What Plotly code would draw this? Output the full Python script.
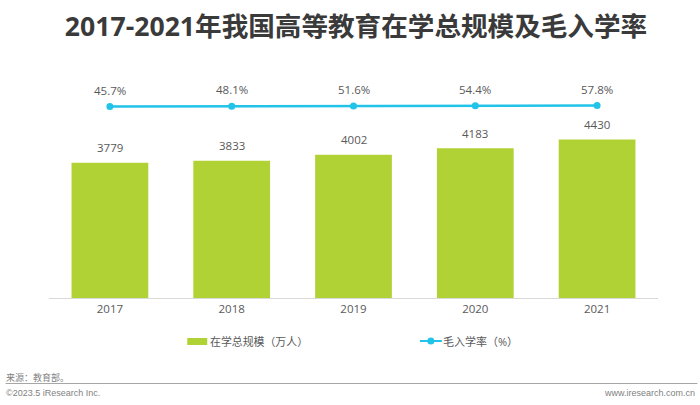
import plotly.graph_objects as go
from plotly.subplots import make_subplots

years = ['2017', '2018', '2019', '2020', '2021']
students = [3779, 3833, 4002, 4183, 4430]
rates = [45.7, 48.1, 51.6, 54.4, 57.8]
rate_labels = ['45.7%', '48.1%', '51.6%', '54.4%', '57.8%']

font_cn = 'Open Sans, Noto Sans CJK SC'
text_col = '#595959'
green = '#B0D235'
blue = '#22C3E8'

# plot area in page pixels
left, right, top, bottom = 48.5, 658.5, 60, 298


def px(v):
    return (v - left) / (right - left)


def py(v):
    return (bottom - v) / (bottom - top)


fig = make_subplots(specs=[[{'secondary_y': True}]])

fig.add_trace(go.Bar(x=years, y=students, marker_color=green, marker_line_width=0, width=0.63,
                     showlegend=False),
              secondary_y=False)
fig.add_trace(go.Scatter(x=years, y=rates, mode='lines+markers',
                         line=dict(color=blue, width=2.5),
                         marker=dict(size=7, color=blue), showlegend=False),
              secondary_y=True)

# value labels (category axis: annotations take the category's serial number)
for i, val in enumerate(students):
    fig.add_annotation(x=i, y=val, xref='x', yref='y', text=str(val), yshift=15, showarrow=False,
                       font=dict(size=11.5, color=text_col))
for i, (val, lab) in enumerate(zip(rates, rate_labels)):
    fig.add_annotation(x=i, y=val, xref='x', yref='y2', text=lab, yshift=16.5, showarrow=False,
                       font=dict(size=11.5, color=text_col))

fig.update_layout(
    width=700, height=405, margin=dict(l=left, r=700 - right, t=top, b=405 - bottom),
    paper_bgcolor='white', plot_bgcolor='white',
    font=dict(family=font_cn, color=text_col, size=12),
    title=dict(text='<b>2017-2021年我国高等教育在学总规模及毛入学率</b>',
               x=356 / 700, xanchor='center', y=1 - 27 / 405, yanchor='middle',
               font=dict(size=26.6, color='#3a3a3a')),
)
fig.update_xaxes(type='category', domain=[0, 1], showgrid=False, ticks='', showline=True,
                 linecolor='#d9d9d9', linewidth=1, tickfont=dict(size=11.5, color=text_col))
fig.update_yaxes(range=[0, 6648], visible=False, secondary_y=False)
fig.update_yaxes(range=[-2348, 627], visible=False, secondary_y=True)

# legend
fig.add_shape(type='rect', xref='paper', yref='paper', x0=px(187), x1=px(207), y0=py(345), y1=py(338),
              fillcolor=green, line_width=0)
fig.add_annotation(text='在学总规模（万人）', xref='paper', yref='paper', x=px(208), y=py(341),
                   xanchor='left', yanchor='middle', showarrow=False,
                   font=dict(size=10.9, color=text_col))
fig.add_shape(type='line', xref='paper', yref='paper', x0=px(420), x1=px(442), y0=py(341), y1=py(341),
              line=dict(color=blue, width=2))
fig.add_shape(type='circle', xref='paper', yref='paper', x0=px(427.5), x1=px(434.5), y0=py(344.5), y1=py(337.5),
              fillcolor=blue, line_width=0)
fig.add_annotation(text='毛入学率（%）', xref='paper', yref='paper', x=px(441), y=py(341),
                   xanchor='left', yanchor='middle', showarrow=False,
                   font=dict(size=11, color=text_col))

# footer
fig.add_annotation(text='来源：教育部。', xref='paper', yref='paper', x=px(3), y=py(377),
                   xanchor='left', yanchor='middle', showarrow=False,
                   font=dict(size=9, color='#7f7f7f'))
fig.add_annotation(text='©2023.5 iResearch Inc.', xref='paper', yref='paper', x=px(3), y=py(393),
                   xanchor='left', yanchor='middle', showarrow=False,
                   font=dict(size=9, color='#7f7f7f', family='Liberation Sans'))
fig.add_annotation(text='www.iresearch.com.cn', xref='paper', yref='paper', x=px(698), y=py(393),
                   xanchor='right', yanchor='middle', showarrow=False,
                   font=dict(size=9, color='#7f7f7f', family='Liberation Sans'))
fig.add_shape(type='line', xref='paper', yref='paper', x0=px(5), x1=px(698), y0=py(383.5), y1=py(383.5),
              line=dict(color='#a6a6a6', width=1))

# the page's default body margin would shift everything by 8px
fig.write_html('out.html', config={'displayModeBar': False},
               post_script="document.body.style.margin='0';")
